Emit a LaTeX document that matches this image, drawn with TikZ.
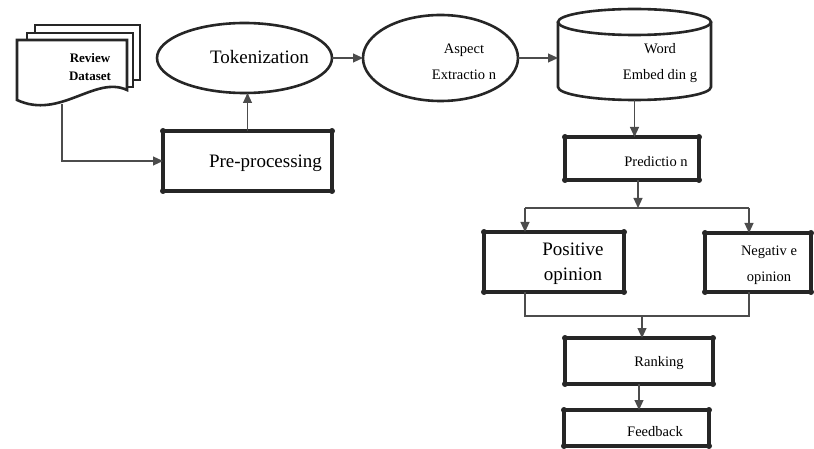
\documentclass[tikz,border=0pt]{standalone}
\usepackage{fontspec}
\setmainfont{Liberation Serif}
\usetikzlibrary{shapes.geometric,arrows.meta}
\tikzset{
  boxnode/.style={draw=black!85, line width=3.4pt, outer sep=0pt, inner sep=0pt, minimum width=#1},
  ellnode/.style={draw=black!85, line width=2.6pt, ellipse, outer sep=0pt, inner sep=0pt},
  shapeline/.style={draw=black!85, line width=2.6pt, fill=white},
  conn/.style={draw=black!70, line width=1.1pt, -{Triangle[length=10pt,width=9pt]}},
  plainline/.style={draw=black!70, line width=1.1pt},
  bigtxt/.style={font=\fontsize{19}{25}\selectfont, align=center, inner sep=0pt},
  smalltxt/.style={font=\fontsize{14.5}{26}\selectfont, align=center, inner sep=0pt},
  doctxt/.style={font=\fontsize{13}{18}\selectfont\bfseries, align=center, inner sep=0pt}
}
\begin{document}
\begin{tikzpicture}[x=1pt,y=-1pt]
\useasboundingbox (0,0) rectangle (814,449);

% Review dataset (multi-document)
\draw[shapeline] (35,25) rectangle (140,80);
\draw[shapeline] (27,33) rectangle (133,87);
\draw[shapeline] (17,40) -- (127,40) -- (127,90) .. controls (95,75) and (60,120) .. (17,100) -- cycle;
\node[minimum width=110pt, minimum height=65pt, inner sep=0pt] (rd) at (72,72) {};
\node[doctxt] (rdt) at (90,67) {Review\\Dataset};
\coordinate (rdb) at (62,104);

% Tokenization and aspect ellipses
\node[ellnode, minimum width=175pt, minimum height=70pt] (tok) at (244.5,58) {};
\node[bigtxt] (tokt) at (259.5,57) {Tokenization};
\node[ellnode, minimum width=155pt, minimum height=86pt] (asp) at (440.5,58) {};
\node[smalltxt] (aspt) at (464,62) {Aspect\\Extractio n};

% Word embedding cylinder
\draw[shapeline] (558,22) -- (558,87) arc[start angle=180, end angle=360, x radius=76.5pt, y radius=13pt] -- (711,22);
\draw[shapeline] (634.5,22) ellipse [x radius=76.5pt, y radius=13pt];
\node[minimum width=153pt, minimum height=92pt, inner sep=0pt, outer sep=0pt] (we) at (634.5,54) {};
\node[smalltxt] (wet) at (660,63) {Word\\Embed din g};

% Boxes
\node[boxnode=169pt, minimum height=60pt] (pre) at (247.5,161) {};
\node[bigtxt] (pret) at (265.5,163) {Pre-processing};
\node[boxnode=134pt, minimum height=43pt] (pred) at (632,158.5) {};
\node[smalltxt] (predt) at (656,162) {Predictio n};
\node[boxnode=140pt, minimum height=60pt] (pos) at (554,262) {};
\node[bigtxt] (post) at (573,264) {Positive\\opinion};
\node[boxnode=106pt, minimum height=59pt] (neg) at (758,262.5) {};
\node[smalltxt] (negt) at (769,265) {Negativ e\\opinion};
\node[boxnode=148pt, minimum height=46pt] (rank) at (639,361) {};
\node[smalltxt] (rankt) at (659,363) {Ranking};
\node[boxnode=145pt, minimum height=36pt] (fb) at (636.5,428) {};
\node[smalltxt] (fbt) at (655,432) {Feedback};

% corner dots
\foreach \n in {pre,pred,pos,neg,rank,fb}
  \foreach \c in {north west,north east,south west,south east}
    \fill[black!85] (\n.\c) circle (3pt);

% Connectors
\draw[conn] (rdb) |- (pre.west);
\draw[conn] (pre.north) -- (pre.north |- tok.south);
\draw[conn] (tok.east) -- (asp.west);
\draw[conn] (asp.east) -- (asp.east -| we.west);
\draw[conn] (we.south) -- (we.south |- pred.north);

\coordinate (sp) at (638,208);
\coordinate (spl) at (525,208);
\coordinate (spr) at (749,208);
\draw[conn] (pred.south -| sp) -- (sp);
\draw[plainline] (spl) -- (spr);
\draw[conn] (spl) -- (spl |- pos.north);
\draw[conn] (spr) -- (spr |- neg.north);

\coordinate (jl) at (525,316);
\coordinate (jr) at (749,316);
\coordinate (jm) at (642,316);
\draw[plainline] (jl |- pos.south) -- (jl) -- (jr) -- (jr |- neg.south);
\draw[conn] (jm) -- (jm |- rank.north);
\draw[conn] (rank.south) -- (rank.south |- fb.north);
\end{tikzpicture}
\end{document}
